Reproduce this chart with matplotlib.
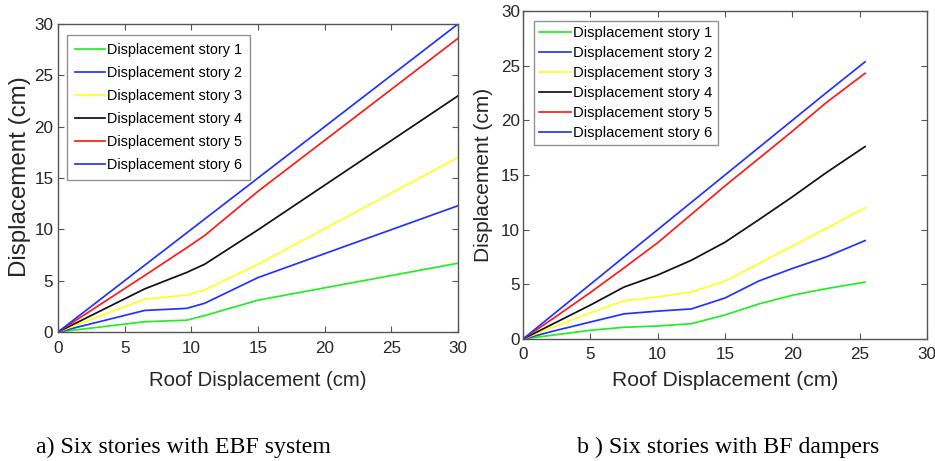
import matplotlib
matplotlib.use("Agg")
import matplotlib.pyplot as plt

# EBF system (left panel)
x_ebf = [0, 6.5, 9.65, 11, 15, 30]
ebf_story1 = [0, 1.0, 1.15, 1.6, 3.1, 6.7]
ebf_story2 = [0, 2.1, 2.3, 2.8, 5.3, 12.3]
ebf_story3 = [0, 3.2, 3.6, 4.1, 6.6, 17.0]
ebf_story4 = [0, 4.2, 5.8, 6.6, 9.95, 23.0]
ebf_story5 = [0, 5.5, 8.2, 9.4, 13.7, 28.6]
ebf_story6 = [0, 6.5, 9.65, 11, 15, 30.0]

# BF dampers (right panel)
x_bf = [0, 2.5, 5, 7.5, 10, 12.5, 15, 17.5, 20, 22.5, 25.4]
bf_story1 = [0, 0.4, 0.8, 1.07, 1.19, 1.4, 2.2, 3.2, 4.0, 4.6, 5.2]
bf_story2 = [0, 0.8, 1.55, 2.3, 2.55, 2.75, 3.75, 5.3, 6.45, 7.5, 9.0]
bf_story3 = [0, 1.2, 2.4, 3.5, 3.85, 4.3, 5.3, 6.9, 8.5, 10.1, 12.0]
bf_story4 = [0, 1.55, 3.1, 4.75, 5.85, 7.2, 8.85, 10.9, 13.0, 15.2, 17.6]
bf_story5 = [0, 2.1, 4.25, 6.5, 8.8, 11.4, 14.0, 16.5, 19.0, 21.6, 24.3]
bf_story6 = [0, 2.5, 5.0, 7.5, 10.0, 12.5, 15.0, 17.5, 20.0, 22.5, 25.35]

labels = ["Displacement story %d" % i for i in range(1, 7)]
colors = ["#22ee22", "#2233ff", "#ffff22", "#111111", "#ff1a1a", "#2233ff"]
ticks = [0, 5, 10, 15, 20, 25, 30]

plt.rcParams["font.family"] = ["Liberation Sans", "DejaVu Sans"]

fig = plt.figure(figsize=(9.35, 4.61), dpi=100)
W, H = 935.0, 461.0


def setup(ax, tick_pad_x, tick_pad_y):
    ax.set_xlim(0, 30)
    ax.set_ylim(0, 30)
    ax.set_xticks(ticks)
    ax.set_yticks(ticks)
    for s in ax.spines.values():
        s.set_color("#555555")
        s.set_linewidth(1.0)
    ax.tick_params(direction="in", length=4, width=0.8, color="#555555",
                   top=True, right=True, labelsize=12.3, labelcolor="#262626")
    ax.tick_params(axis="x", pad=tick_pad_x)
    ax.tick_params(axis="y", pad=tick_pad_y)


# left panel
ax1 = fig.add_axes([58 / W, (H - 332) / H, 400 / W, 308 / H])
setup(ax1, 6.5, 3.4)
for ys, c, lab in zip([ebf_story1, ebf_story2, ebf_story3, ebf_story4, ebf_story5, ebf_story6],
                      colors, labels):
    ax1.plot(x_ebf, ys, color=c, lw=1.25, label=lab)
ax1.set_xlabel("Roof Displacement (cm)", fontsize=14.6, color="#262626")
ax1.set_ylabel("Displacement (cm)", fontsize=17.4, color="#262626")
ax1.xaxis.set_label_coords(0.5, -0.156)
ax1.xaxis.label.set_va("center")
ax1.yaxis.set_label_coords(-0.095, 0.503)
ax1.yaxis.label.set_va("center")
leg1 = ax1.legend(loc="upper left", bbox_to_anchor=((67 - 58) / 400, (332 - 35) / 308),
                  borderaxespad=0, fancybox=False, edgecolor="#777777",
                  prop={"size": 10.4},
                  handlelength=2.08, handletextpad=0.15, labelspacing=0.62, borderpad=0.55)
leg1.get_frame().set_linewidth(1.0)

# right panel
ax2 = fig.add_axes([523 / W, (H - 339) / H, 404 / W, 328 / H])
setup(ax2, 5.5, 2.2)
for ys, c, lab in zip([bf_story1, bf_story2, bf_story3, bf_story4, bf_story5, bf_story6],
                      colors, labels):
    ax2.plot(x_bf, ys, color=c, lw=1.25, label=lab)
ax2.set_xlabel("Roof Displacement (cm)", fontsize=15.2, color="#262626")
ax2.set_ylabel("Displacement (cm)", fontsize=15, color="#262626")
ax2.xaxis.set_label_coords(0.5, -0.125)
ax2.xaxis.label.set_va("center")
ax2.yaxis.set_label_coords(-0.099, 0.5)
ax2.yaxis.label.set_va("center")
leg2 = ax2.legend(loc="upper left", bbox_to_anchor=((534 - 523) / 404, (339 - 21) / 328),
                  borderaxespad=0, fancybox=False, edgecolor="#777777",
                  prop={"size": 10.7},
                  handlelength=2.15, handletextpad=0.15, labelspacing=0.4, borderpad=0.35)
leg2.get_frame().set_linewidth(1.0)

# captions
fig.text(36 / W, (H - 453) / H, "a) Six stories with EBF system",
         family="Liberation Serif", fontsize=17.2, ha="left", va="baseline")
fig.text(577 / W, (H - 453) / H, "b ) Six stories with BF dampers",
         family="Liberation Serif", fontsize=17.2, ha="left", va="baseline")

fig.savefig("out.png", dpi=100)
